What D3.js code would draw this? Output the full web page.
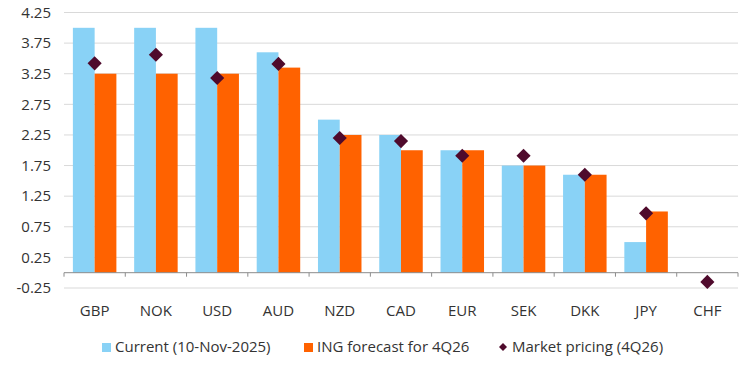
<!DOCTYPE html>
<html><head><meta charset="utf-8">
<script src="https://cdn.jsdelivr.net/npm/d3@7"></script>
<style>body{margin:0;background:#fff;} text{font-family:"Open Sans",sans-serif;}</style>
</head><body><svg id="c" width="753" height="366"></svg>
<script>
const categories = ["GBP","NOK","USD","AUD","NZD","CAD","EUR","SEK","DKK","JPY","CHF"];
const current = [4.00,4.00,4.00,3.60,2.50,2.25,2.00,1.75,1.60,0.50,0.00];
const ingForecast = [3.25,3.25,3.25,3.35,2.25,2.00,2.00,1.75,1.60,1.00,0.00];
const marketPricing = [3.42,3.56,3.18,3.41,2.20,2.15,1.91,1.91,1.60,0.97,-0.15];
const yTicks = [4.25,3.75,3.25,2.75,2.25,1.75,1.25,0.75,0.25,-0.25];
const seriesNames = ["Current (10-Nov-2025)","ING forecast for 4Q26","Market pricing (4Q26)"];
const colors = {cur:"#89d2f6", ing:"#ff6200", mkt:"#4f0a2c"};

const svg = d3.select("#c");
const pLeft=64, pRight=738, pTop=12.5, pBottom=288;
const x = d3.scaleBand().domain(categories).range([pLeft,pRight]).paddingInner(0.29).paddingOuter(0.145);
const xs = d3.scaleBand().domain(["cur","ing"]).range([0,x.bandwidth()]);
const y = d3.scaleLinear().domain([-0.25,4.25]).range([pBottom,pTop]);
const txt = "#333333";
const fs = 15;

// gridlines
svg.append("g").selectAll("line").data(yTicks).join("line")
  .attr("x1",pLeft).attr("x2",pRight).attr("y1",d=>y(d)).attr("y2",d=>y(d))
  .attr("stroke","#d9d9d9").attr("stroke-width",1);
// y labels
svg.append("g").selectAll("text").data(yTicks).join("text")
  .attr("x",51).attr("y",d=>y(d)).attr("dy","0.35em").attr("text-anchor","end")
  .attr("font-size",fs).attr("fill",txt).text(d=>d.toFixed(2));

// bars
const g = svg.append("g");
categories.forEach((c,i)=>{
  [["cur",current[i]],["ing",ingForecast[i]]].forEach(([k,v])=>{
    if(v===0) return;
    g.append("rect").attr("x",x(c)+xs(k)).attr("width",xs.bandwidth())
      .attr("y",y(Math.max(0,v))).attr("height",Math.abs(y(v)-y(0))).attr("fill",colors[k]);
  });
});

// x axis
const step = x.step();
const axY = y(0);
svg.append("line").attr("x1",pLeft).attr("x2",pRight).attr("y1",axY).attr("y2",axY).attr("stroke","#8c8c8c");
const bounds = d3.range(categories.length+1).map(i=>pLeft+i*step);
svg.append("g").selectAll("line").data(bounds).join("line")
  .attr("x1",d=>d).attr("x2",d=>d).attr("y1",axY).attr("y2",axY+4).attr("stroke","#8c8c8c");
svg.append("g").selectAll("text").data(categories).join("text")
  .attr("x",d=>x(d)+x.bandwidth()/2).attr("y",311).attr("dy","0.35em").attr("text-anchor","middle")
  .attr("font-size",fs).attr("fill",txt).text(d=>d);

// market diamonds
svg.append("g").selectAll("path").data(categories).join("path")
  .attr("transform",(d,i)=>`translate(${x(d)+x.bandwidth()/2},${y(marketPricing[i])}) rotate(45)`)
  .attr("d",d3.symbol().type(d3.symbolSquare).size(100)).attr("fill",colors.mkt);

// legend
const ly = 347;
const leg = svg.append("g");
const legItems = [{k:"cur",x:102,tx:115},{k:"ing",x:304,tx:317},{k:"mkt",x:503,tx:512}];
legItems.forEach((it,i)=>{
  if(it.k==="mkt"){
    leg.append("path").attr("transform",`translate(${it.x},${ly}) rotate(45)`)
      .attr("d",d3.symbol().type(d3.symbolSquare).size(32)).attr("fill",colors.mkt);
  } else {
    leg.append("rect").attr("x",it.x).attr("y",ly-4).attr("width",9).attr("height",9).attr("fill",colors[it.k]);
  }
  leg.append("text").attr("x",it.tx).attr("y",ly).attr("dy","0.35em")
    .attr("font-size",fs).attr("fill",txt).text(seriesNames[i]);
});
</script></body></html>
